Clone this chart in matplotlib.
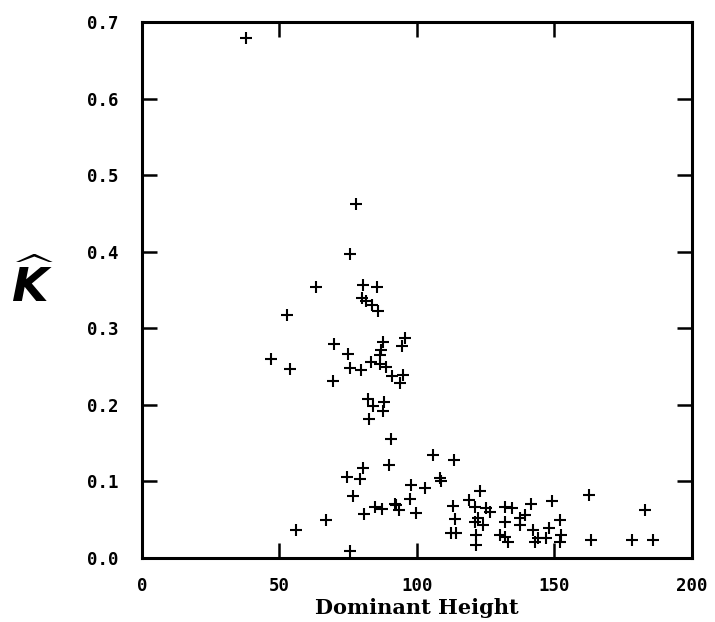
import matplotlib.pyplot as plt

# hauteur dominante (x) et kappa estimé (y)
hauteur = [37.8, 77.9, 75.6, 63.1, 80.2, 85.5, 79.9, 81.5, 83.5, 86.0,
           52.6, 69.9, 75.0, 46.9, 53.8, 75.8, 79.5, 69.5, 87.7, 86.8,
           86.5, 83.2, 86.5, 88.9, 90.9, 95.6, 94.7, 94.9, 94.0,
           82.3, 84.0, 87.9, 87.7, 82.6, 90.4, 89.7, 80.4, 74.6, 79.2,
           76.6, 80.7, 84.7, 87.1, 91.9, 93.5, 66.9, 56.0, 75.8,
           105.9, 113.4, 108.5, 108.9, 98.0, 102.8, 97.4, 92.5, 99.8,
           113.1, 113.7, 112.5, 114.3,
           122.8, 118.9, 121.0, 125.2, 126.5, 122.2, 121.0, 124.0, 121.6, 121.4,
           131.9, 134.4, 131.9, 130.1, 131.9, 133.1,
           141.6, 139.2, 137.4, 137.4, 142.2, 148.0, 149.2, 151.9, 152.5, 151.9,
           144.0, 142.8, 147.0,
           162.5, 163.4, 182.8, 178.3, 185.8]
kappa = [0.679, 0.462, 0.397, 0.354, 0.356, 0.354, 0.339, 0.335, 0.330, 0.322,
         0.318, 0.280, 0.266, 0.260, 0.247, 0.248, 0.245, 0.231, 0.282, 0.272,
         0.265, 0.256, 0.254, 0.250, 0.238, 0.287, 0.277, 0.239, 0.229,
         0.208, 0.198, 0.204, 0.192, 0.181, 0.156, 0.122, 0.118, 0.106, 0.103,
         0.081, 0.058, 0.066, 0.064, 0.070, 0.063, 0.050, 0.037, 0.009,
         0.135, 0.128, 0.104, 0.100, 0.095, 0.092, 0.077, 0.069, 0.059,
         0.068, 0.051, 0.032, 0.033,
         0.088, 0.076, 0.067, 0.065, 0.060, 0.052, 0.047, 0.043, 0.030, 0.017,
         0.066, 0.065, 0.047, 0.030, 0.028, 0.021,
         0.070, 0.056, 0.052, 0.043, 0.037, 0.039, 0.074, 0.050, 0.030, 0.021,
         0.026, 0.021, 0.026,
         0.082, 0.023, 0.063, 0.024, 0.023]

xticks = [0, 50, 100, 150, 200]
yticks = [0.0, 0.1, 0.2, 0.3, 0.4, 0.5, 0.6, 0.7]

fig = plt.figure(figsize=(7.15, 6.22), dpi=100)
ax = fig.add_axes([0.1986, 0.1029, 0.7692, 0.8617])

ax.plot(hauteur, kappa, linestyle='none', marker='+', color='black',
        markersize=9, markeredgewidth=1.5)

ax.set_xlim(0, 200)
ax.set_ylim(0, 0.7)
ax.set_xticks(xticks)
ax.set_yticks(yticks)
ax.set_xticklabels([str(v) for v in xticks])
ax.set_yticklabels(['%.1f' % v for v in yticks])

for s in ax.spines.values():
    s.set_linewidth(2.2)

ax.tick_params(direction='in', length=11, width=1.8, top=True, right=True,
               labeltop=False, labelright=False)
ax.tick_params(axis='x', pad=14)
ax.tick_params(axis='y', pad=17)
for lab in ax.get_xticklabels() + ax.get_yticklabels():
    lab.set_family('DejaVu Sans Mono')
    lab.set_fontweight('bold')
    lab.set_fontsize(12.5)

ax.set_xlabel('Dominant Height', family='DejaVu Serif', fontweight='bold',
              fontsize=15, labelpad=2)
fig.text(0.045, 0.54, r'$\widehat{\boldsymbol{K}}$', fontsize=34,
         ha='center', va='center')

fig.savefig('out.png', dpi=100)
